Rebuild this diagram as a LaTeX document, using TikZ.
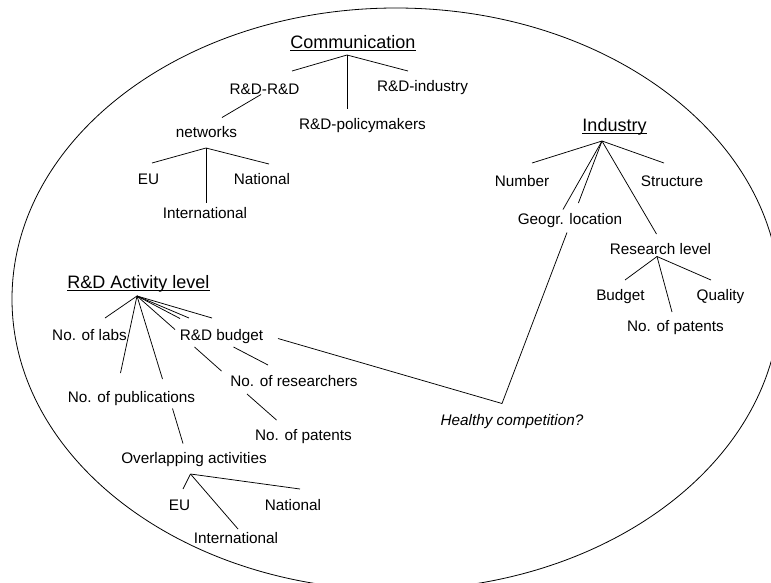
\documentclass[tikz,border=0pt]{standalone}
\usepackage{fontspec}
\setmainfont{Liberation Sans}
\begin{document}
\begin{tikzpicture}[x=1pt,y=-1pt, line width=0.75pt,
  lbl/.style={inner sep=0pt, anchor=base, font=\fontsize{15.3}{18}\selectfont},
  head/.style={inner sep=0pt, anchor=base, font=\fontsize{18}{21}\selectfont},
  ulin/.style={line width=1.1pt}]
\useasboundingbox (0,0) rectangle (771,582);
\begin{scope}
\clip (0,0) rectangle (771,582);
\draw[line width=0.8pt] (396,299) ellipse [x radius=384pt, y radius=291pt];
\end{scope}

% ---------- Communication ----------
\node[head] (comm) at (353,48.3) {Communication};
\draw[ulin] ([yshift=-1.8pt]comm.base west) -- ([yshift=-1.8pt]comm.base east);
\node[lbl] (rr) at (264.5,94) {R\&D-R\&D};
\node[lbl] (rind) at (422.5,91.5) {R\&D-industry};
\node[lbl] (rpol) at (362.5,129) {R\&D-policymakers};
\node[lbl] (net) at (206.5,137) {networks};
\node[lbl] (neu) at (148.5,184) {EU};
\node[lbl] (nnat) at (262,184) {National};
\node[lbl] (nint) at (205,218) {International};

\coordinate (cA) at (347,55);
\coordinate (c1) at (292,71);
\coordinate (c2) at (347,109);
\coordinate (c3) at (408,71);
\coordinate (rr1) at (261,94.5);
\coordinate (rr2) at (222,117.5);
\coordinate (nA) at (206,148);
\coordinate (n1) at (152,163);
\coordinate (n2) at (206,203);
\coordinate (n3) at (269,164);
\draw (cA) -- (c1);
\draw (cA) -- (c2);
\draw (cA) -- (c3);
\draw (rr1) -- (rr2);
\draw (nA) -- (n1);
\draw (nA) -- (n2);
\draw (nA) -- (n3);

% ---------- Industry ----------
\node[head] (ind) at (614.5,131.7) {Industry};
\draw[ulin] ([yshift=-1.8pt]ind.base west) -- ([yshift=-1.8pt]ind.base east);
\node[lbl] (inum) at (522,186.5) {Number};
\node[lbl] (istr) at (672,186.5) {Structure};
\node[lbl] (igeo) at (570,224.5) {Geogr. location};
\node[lbl] (ires) at (660.5,254) {Research level};
\node[lbl] (ibud) at (620.5,300) {Budget};
\node[lbl] (iqua) at (720.5,300) {Quality};
\node[lbl] (ipat) at (675.5,331) {No. of patents};

\coordinate (iA) at (602,141);
\coordinate (i1) at (532,163);
\coordinate (i2) at (664,163);
\coordinate (i3) at (563,209.5);
\coordinate (i4) at (578.4,203);
\coordinate (i5) at (656.5,234);
\coordinate (g1) at (567,232.5);
\coordinate (hcA) at (502,403.5);
\coordinate (rA) at (657,256.5);
\coordinate (r1) at (625,280);
\coordinate (r2) at (672,312);
\coordinate (r3) at (711,280);
\draw (iA) -- (i1);
\draw (iA) -- (i2);
\draw (iA) -- (i3);
\draw (iA) -- (i4);
\draw (iA) -- (i5);
\draw (g1) -- (hcA);
\draw (rA) -- (r1);
\draw (rA) -- (r2);
\draw (rA) -- (r3);

% ---------- R&D Activity level ----------
\node[head] (rda) at (138.5,288.3) {R\&D Activity level};
\draw[ulin] ([yshift=-1.8pt]rda.base west) -- ([yshift=-1.8pt]rda.base east);
\node[lbl] (alab) at (89.5,340) {No. of labs};
\node[lbl] (abud) at (221.5,340) {R\&D budget};
\node[lbl] (ares) at (294,386) {No. of researchers};
\node[lbl] (apub) at (131.5,402) {No. of publications};
\node[lbl] (apat) at (303.5,440.5) {No. of patents};
\node[lbl, font=\fontsize{15.3}{18}\selectfont\itshape] (hc) at (512,425) {Healthy competition?};
\node[lbl] (ovl) at (194,463) {Overlapping activities};
\node[lbl] (oeu) at (179.5,510) {EU};
\node[lbl] (onat) at (293,510) {National};
\node[lbl] (oint) at (236,543) {International};

\coordinate (aA) at (137,296);
\coordinate (a1) at (105,318);
\coordinate (a2) at (120.5,373);
\coordinate (a3) at (162.5,379);
\coordinate (a3b) at (172.5,408.5);
\coordinate (a3c) at (183,443.5);
\coordinate (ap1) at (175,329.5);
\coordinate (ap2) at (194.5,347);
\coordinate (ap3) at (221.5,371);
\coordinate (ap4) at (247,394);
\coordinate (ap5) at (276.5,420);
\coordinate (ar1) at (180,318.5);
\coordinate (ar2) at (233.5,347);
\coordinate (ar3) at (268,365);
\coordinate (ab1) at (189,318);
\coordinate (ah1) at (212,318);
\coordinate (ah2) at (278,338.5);
\coordinate (oA) at (190.5,474);
\coordinate (o1) at (183,489);
\coordinate (o2) at (238,529);
\coordinate (o3) at (300,489);
\draw (aA) -- (a1);
\draw (aA) -- (a2);
\draw (aA) -- (a3);
\draw (a3b) -- (a3c);
\draw (aA) -- (ap1);
\draw (ap2) -- (ap3);
\draw (ap4) -- (ap5);
\draw (aA) -- (ar1);
\draw (ar2) -- (ar3);
\draw (aA) -- (ab1);
\draw (aA) -- (ah1);
\draw (ah2) -- (hcA);
\draw (oA) -- (o1);
\draw (oA) -- (o2);
\draw (oA) -- (o3);
\end{tikzpicture}
\end{document}
